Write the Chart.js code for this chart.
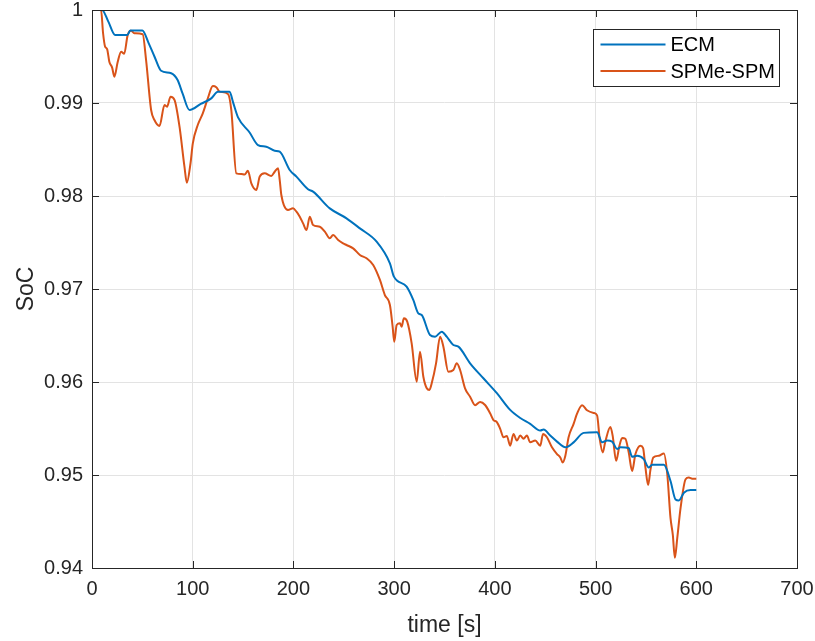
<!DOCTYPE html>
<html>
<head>
<meta charset="utf-8">
<title>SoC</title>
<script src="https://cdn.jsdelivr.net/npm/chart.js@4.4.1/dist/chart.umd.min.js"></script>
<style>
  html, body { margin: 0; padding: 0; background: #fff; }
  #wrap { width: 815px; height: 641px; }
</style>
</head>
<body>
<div id="wrap"><canvas id="socChart" width="815" height="641"></canvas></div>
<script>
// ECM state of charge over the drive cycle
const ecmTime = [0, 10, 16, 23, 35, 38, 50, 56, 62, 68.6, 78.6, 85, 90, 96.8, 108, 118.4, 125, 136.6, 140, 145,
  156.5, 164.8, 173, 181.4, 186.4, 196.3, 203, 214.5, 219.5, 236.1, 252.7, 266, 282.6, 295.8, 299.8, 312.4,
  319, 324, 327.4, 335.6, 340.6, 347.3, 352.2, 358.8, 363.8, 375.4, 388.6, 402, 415.2, 425.2, 435.1, 445.1,
  448.4, 455, 461.7, 470, 478.2, 488.2, 501.5, 506.5, 511.4, 516.4, 521.4, 524.7, 532.9, 536.3, 541.3, 547.9,
  552.8, 556.2, 567.8, 574.4, 579.4, 582.7, 587.7, 594.3, 600];
const ecmSoc = [1, 1, 0.9988, 0.9973, 0.9973, 0.9978, 0.9978, 0.9965, 0.9950, 0.99347, 0.9932, 0.99247, 0.9910,
  0.98925, 0.9899, 0.9905, 0.99122, 0.99122, 0.9901, 0.98845, 0.98683, 0.98548, 0.98530, 0.98487, 0.98476,
  0.98280, 0.98208, 0.98072, 0.98047, 0.97867, 0.97760, 0.97652, 0.97509, 0.97276, 0.97133, 0.97025, 0.96882,
  0.96738, 0.9672, 0.96505, 0.96487, 0.96541, 0.96487, 0.96398, 0.9638, 0.96201, 0.96040, 0.95880, 0.95700,
  0.95613, 0.9555, 0.95478, 0.9549, 0.95424, 0.95359, 0.95298, 0.95351, 0.95453, 0.9546, 0.95351, 0.9537,
  0.95360, 0.95280, 0.95298, 0.95290, 0.95196, 0.95207, 0.95171, 0.95081, 0.9511, 0.9511, 0.94935, 0.94737,
  0.94726, 0.94809, 0.94838, 0.94838];

// SPMe-SPM state of charge
const spmTime = [0, 9, 11, 13, 15, 17.2, 20, 22.2, 25.5, 28.9, 32, 35.4, 38.8, 42, 50.3, 53.7, 58.7, 62, 67, 72,
  74.5, 78, 82, 86.9, 91.8, 94.2, 97.8, 100.1, 105, 110, 115, 120, 123.4, 126.7, 135, 138.3, 143.3, 148.3,
  151.5, 154.8, 158.2, 163.2, 166.5, 171.4, 178, 181.4, 184.7, 186.4, 188, 194.6, 199.6, 203, 206.3, 209.6,
  213, 216.2, 219.5, 226.2, 231.2, 236.1, 239.4, 244.4, 249.4, 252.7, 259.3, 266, 272.6, 279.2, 285.9, 290.8,
  295.8, 298.5, 300.1, 302.5, 305.8, 307.4, 309.7, 313, 317.4, 322.4, 325.7, 329, 332.4, 335, 337.3, 341.6,
  345.6, 348.9, 353.8, 358.8, 362.2, 365.5, 370.4, 375.4, 380.4, 385.4, 390.3, 395.3, 398.6, 402, 405.3,
  408.6, 411.9, 415.2, 418.5, 421.8, 425.2, 428.5, 431.8, 435.1, 440.1, 445.1, 447.8, 451.7, 456.7, 461.7,
  465, 467.3, 470, 473.2, 478.2, 481.6, 486.6, 491.5, 498.1, 501.5, 504.1, 507.1, 509.5, 514.7, 517, 520.4,
  523.7, 526.4, 529.6, 532.9, 536.3, 539.6, 544.6, 547.2, 549.5, 552.2, 554.6, 557.3, 562.8, 567.8, 571.2,
  574.4, 576.7, 578.7, 581.1, 584.4, 589.4, 592.6, 596, 600];
const spmSoc = [1, 1, 0.9975, 0.99606, 0.9958, 0.99444, 0.9938, 0.99283, 0.9944, 0.99552, 0.9953, 0.9973,
  0.99778, 0.9975, 0.99739, 0.99462, 0.98925, 0.98817, 0.98753, 0.98978, 0.98960, 0.99068, 0.99032, 0.98745,
  0.98315, 0.98143, 0.98351, 0.98566, 0.98763, 0.98889, 0.9905, 0.99183, 0.9917, 0.99122, 0.99097, 0.98925,
  0.98244, 0.98237, 0.98230, 0.98272, 0.98136, 0.98065, 0.98208, 0.98244, 0.98215, 0.98261, 0.98298, 0.98172,
  0.98011, 0.9785, 0.97867, 0.97831, 0.97778, 0.97706, 0.97634, 0.97778, 0.97688, 0.9767, 0.97616, 0.97545,
  0.97581, 0.97527, 0.97491, 0.97473, 0.97437, 0.97366, 0.9733, 0.97258, 0.97097, 0.96935, 0.96828, 0.96595,
  0.96434, 0.96613, 0.96631, 0.96595, 0.96685, 0.96649, 0.96416, 0.96004, 0.96326, 0.96057, 0.95932, 0.95914,
  0.95986, 0.96201, 0.96487, 0.9638, 0.96111, 0.96129, 0.96201, 0.96129, 0.95932, 0.95842, 0.9575, 0.95786,
  0.95753, 0.95663, 0.95591, 0.95569, 0.95497, 0.95406, 0.95420, 0.95315, 0.95442, 0.9537, 0.95424, 0.9539,
  0.95424, 0.95351, 0.95370, 0.95315, 0.95442, 0.95406, 0.95298, 0.95225, 0.95189, 0.95134, 0.95207, 0.95406,
  0.9555, 0.95659, 0.9575, 0.95696, 0.95667, 0.95641, 0.95388, 0.95243, 0.95351, 0.95515, 0.95420, 0.95153,
  0.95315, 0.95399, 0.95390, 0.95243, 0.95044, 0.95225, 0.95315, 0.95290, 0.95081, 0.94892, 0.95063, 0.95189,
  0.95207, 0.95232, 0.95008, 0.94538, 0.94356, 0.94110, 0.94320, 0.94646, 0.94954, 0.94972, 0.94960, 0.9496];

const seriesNames = ["ECM", "SPMe-SPM"];
const seriesColors = ["#0072BD", "#D95319"];

const FONT = "'Liberation Sans', Arial, Helvetica, sans-serif";
const AXIS_COLOR = "#262626";

const toPoints = (ts, vs) => ts.map((t, i) => ({ x: t, y: vs[i] }));

// axes box with inward ticks on all four sides, plus the legend box
const framePlugin = {
  id: "frame",
  afterDatasetsDraw(chart) {
    const { ctx, chartArea: a, scales } = chart;
    const tl = 7;
    ctx.save();
    ctx.strokeStyle = AXIS_COLOR;
    ctx.lineWidth = 1;
    ctx.beginPath();
    scales.x.ticks.forEach(t => {
      const px = Math.round(scales.x.getPixelForValue(t.value)) + 0.5;
      ctx.moveTo(px, a.bottom); ctx.lineTo(px, a.bottom - tl);
      ctx.moveTo(px, a.top); ctx.lineTo(px, a.top + tl);
    });
    scales.y.ticks.forEach(t => {
      const py = Math.round(scales.y.getPixelForValue(t.value)) + 0.5;
      ctx.moveTo(a.left, py); ctx.lineTo(a.left + tl, py);
      ctx.moveTo(a.right, py); ctx.lineTo(a.right - tl, py);
    });
    ctx.stroke();
    ctx.strokeRect(Math.round(a.left) + 0.5, Math.round(a.top) + 0.5,
      Math.round(a.right - a.left), Math.round(a.bottom - a.top));

    // legend
    const bx = 593.5, by = 29.5, bw = 186, bh = 57;
    ctx.fillStyle = "#fff";
    ctx.fillRect(bx, by, bw, bh);
    ctx.strokeStyle = AXIS_COLOR;
    ctx.strokeRect(bx, by, bw, bh);
    ctx.font = "20px " + FONT;
    ctx.textBaseline = "middle";
    chart.data.datasets.forEach((ds, i) => {
      const ly = by + 15 + i * 26.5;
      ctx.strokeStyle = ds.borderColor;
      ctx.lineWidth = 2;
      ctx.beginPath();
      ctx.moveTo(bx + 7, ly); ctx.lineTo(bx + 72, ly);
      ctx.stroke();
      ctx.fillStyle = "#000";
      ctx.fillText(ds.label, bx + 77, ly + 1);
    });
    ctx.restore();
  }
};

new Chart(document.getElementById("socChart"), {
  type: "line",
  data: {
    datasets: [
      { label: seriesNames[0], data: toPoints(ecmTime, ecmSoc), borderColor: seriesColors[0] },
      { label: seriesNames[1], data: toPoints(spmTime, spmSoc), borderColor: seriesColors[1] }
    ]
  },
  options: {
    responsive: false,
    animation: false,
    parsing: false,
    layout: { padding: { left: 0, right: 18, top: 10, bottom: 0 } },
    elements: {
      point: { radius: 0 },
      line: { borderWidth: 2, tension: 0, cubicInterpolationMode: "monotone", fill: false }
    },
    plugins: { legend: { display: false }, tooltip: { enabled: false } },
    scales: {
      x: {
        type: "linear",
        min: 0, max: 700,
        ticks: { stepSize: 100, color: AXIS_COLOR, padding: 9, font: { family: FONT, size: 20 }, maxRotation: 0 },
        grid: { color: "#e3e3e3", drawTicks: false },
        border: { display: false },
        title: { display: true, text: "time [s]", color: AXIS_COLOR, font: { family: FONT, size: 23 }, padding: { top: 0, bottom: 2 } },
        afterFit: s => { s.height = 73; s.paddingLeft = 0; s.paddingRight = 0; }
      },
      y: {
        min: 0.94, max: 1,
        ticks: {
          stepSize: 0.01, color: AXIS_COLOR, padding: 9, font: { family: FONT, size: 20 },
          callback: v => String(+v.toFixed(2))
        },
        grid: { color: "#e3e3e3", drawTicks: false },
        border: { display: false },
        title: { display: true, text: "SoC", color: AXIS_COLOR, font: { family: FONT, size: 23 }, padding: { top: 13, bottom: 0 } },
        afterFit: s => { s.width = 92; s.paddingTop = 0; s.paddingBottom = 0; }
      }
    }
  },
  plugins: [framePlugin]
});
</script>
</body>
</html>
